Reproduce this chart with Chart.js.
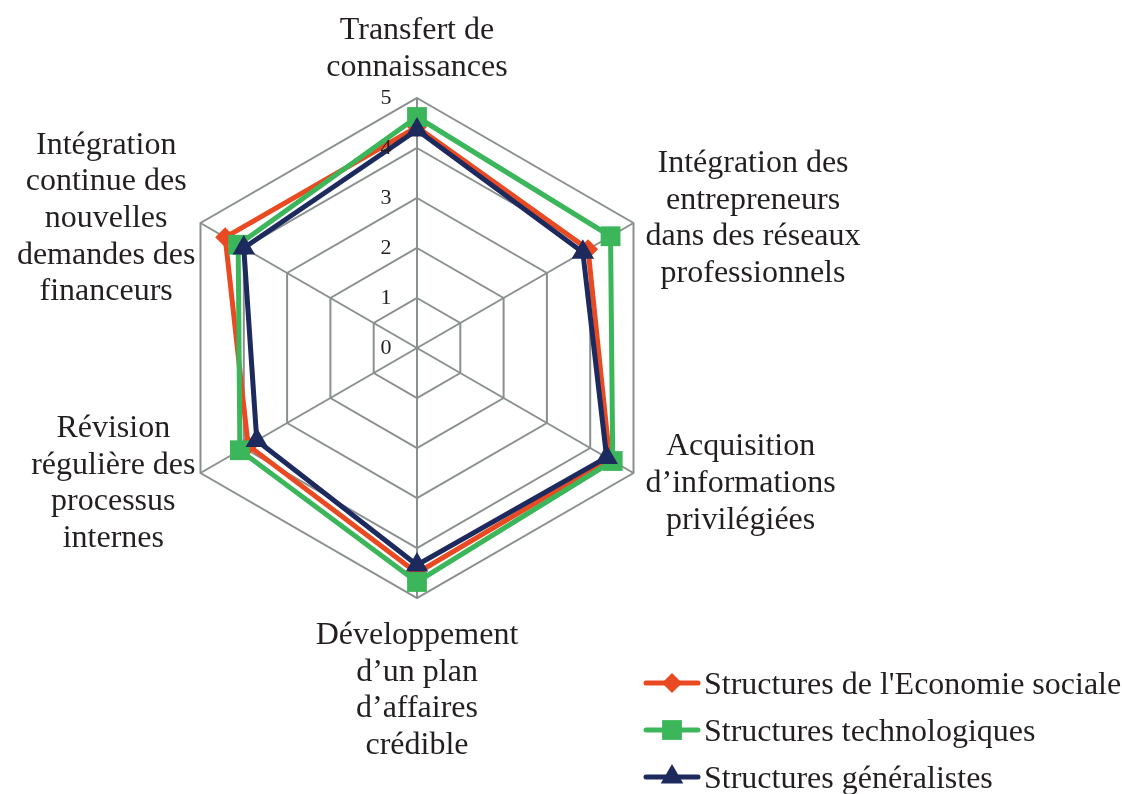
<!doctype html>
<html lang="fr">
<head>
  <meta charset="utf-8">
  <title>Radar</title>
  <style>
    body { margin: 0; background: #fff; }
    #canvas { display: block; }
  </style>
</head>
<body>
  <canvas id="canvas" width="1122" height="794"></canvas>
  <script src="https://cdn.jsdelivr.net/npm/chart.js@4.4.0/dist/chart.umd.min.js"></script>
  <script>
    var labels = [
      ['Transfert de', 'connaissances'],
      ['Intégration des', 'entrepreneurs', 'dans des réseaux', 'professionnels'],
      ['Acquisition', 'd\u2019informations', 'privilégiées'],
      ['Développement', 'd\u2019un plan', 'd\u2019affaires', 'crédible'],
      ['Révision', 'régulière des', 'processus', 'internes'],
      ['Intégration', 'continue des', 'nouvelles', 'demandes des', 'financeurs']
    ];
    var economieSociale = [4.42, 3.95, 4.45, 4.5, 3.9, 4.43];
    var technologiques = [4.62, 4.47, 4.52, 4.68, 4.09, 4.13];
    var generalistes = [4.36, 3.83, 4.38, 4.34, 3.7, 4.0];
    var tickValues = [0, 1, 2, 3, 4, 5];

    var serif = '"Liberation Serif", "DejaVu Serif", serif';
    var textColor = '#231f20';
    var gridColor = '#8a8f8f';

    // point labels, tick labels and legend drawn by hand
    var extras = {
      id: 'extras',
      afterDraw: function(chart) {
        var ctx = chart.ctx;
        var scale = chart.scales.r;
        var cx = scale.xCenter, cy = scale.yCenter;
        ctx.save();

        // ticks 0..5 left of the vertical axis
        ctx.font = '22px ' + serif;
        ctx.fillStyle = textColor;
        ctx.textAlign = 'center';
        ctx.textBaseline = 'middle';
        tickValues.forEach(function(v) {
          var d = scale.getDistanceFromCenterForValue(v);
          ctx.fillText(String(v), cx - 31, cy - d);
        });

        // category labels
        ctx.font = '32px ' + serif;
        var lh = 36.6;
        labels.forEach(function(lines, i) {
          var p = scale.getPointPosition(i, scale.drawingArea);
          var w = 0;
          lines.forEach(function(l) { w = Math.max(w, ctx.measureText(l).width); });
          var x = p.x, firstBase;
          var n = lines.length;
          if (Math.abs(p.x - cx) < 2) {
            if (p.y < cy) firstBase = p.y - 22 - (n - 1) * lh;
            else firstBase = p.y + 46;
          } else {
            x = p.x > cx ? p.x + 12 + w / 2 : p.x - 5 - w / 2;
            var yc = p.y < cy ? p.y - 7 : p.y + 8;
            firstBase = yc - (n - 1) / 2 * lh + 11;
          }
          ctx.textBaseline = 'alphabetic';
          lines.forEach(function(l, k) {
            ctx.fillText(l, x, firstBase + k * lh);
          });
        });

        // legend
        var rows = [683, 730, 777];
        ctx.textAlign = 'left';
        chart.data.datasets.forEach(function(ds, i) {
          var y = rows[i];
          ctx.strokeStyle = ds.borderColor;
          ctx.lineWidth = 5;
          ctx.lineCap = 'round';
          ctx.beginPath();
          ctx.moveTo(646, y);
          ctx.lineTo(698, y);
          ctx.stroke();
          ctx.fillStyle = ds.pointBackgroundColor;
          Chart.helpers.drawPoint(ctx, {
            pointStyle: ds.pointStyle,
            radius: ds.pointRadius,
            rotation: 0,
            borderWidth: 0
          }, 672, y);
          ctx.fillStyle = textColor;
          ctx.fillText(ds.label, 704, y + 11);
        });
        ctx.restore();
      }
    };

    var ctx = document.getElementById('canvas').getContext('2d');
    new Chart(ctx, {
      type: 'radar',
      data: {
        labels: labels,
        datasets: [{
          label: "Structures de l'Economie sociale",
          data: economieSociale,
          borderColor: '#e94a22',
          backgroundColor: '#e94a22',
          pointBackgroundColor: '#e94a22',
          pointBorderColor: '#e94a22',
          pointStyle: 'rectRot',
          pointRadius: 10,
          pointBorderWidth: 0,
          borderWidth: 5,
          fill: false,
          order: 3
        }, {
          label: 'Structures technologiques',
          data: technologiques,
          borderColor: '#3cb65a',
          backgroundColor: '#3cb65a',
          pointBackgroundColor: '#3cb65a',
          pointBorderColor: '#3cb65a',
          pointStyle: 'rect',
          pointRadius: 14,
          pointBorderWidth: 0,
          borderWidth: 5,
          fill: false,
          order: 2
        }, {
          label: 'Structures généralistes',
          data: generalistes,
          borderColor: '#1d2a5e',
          backgroundColor: '#1d2a5e',
          pointBackgroundColor: '#1d2a5e',
          pointBorderColor: '#1d2a5e',
          pointStyle: 'triangle',
          pointRadius: 13,
          pointBorderWidth: 0,
          borderWidth: 5,
          fill: false,
          order: 1
        }]
      },
      options: {
        responsive: false,
        animation: false,
        layout: { padding: { left: 167, right: 455, top: 98, bottom: 196 } },
        elements: { line: { tension: 0, borderJoinStyle: 'miter' } },
        plugins: { legend: { display: false }, tooltip: { enabled: false } },
        scales: {
          r: {
            min: 0,
            max: 5,
            ticks: { stepSize: 1, display: false },
            pointLabels: { display: false },
            grid: { color: gridColor, lineWidth: 2 },
            angleLines: { color: gridColor, lineWidth: 2 }
          }
        }
      },
      plugins: [extras]
    });
  </script>
</body>
</html>
